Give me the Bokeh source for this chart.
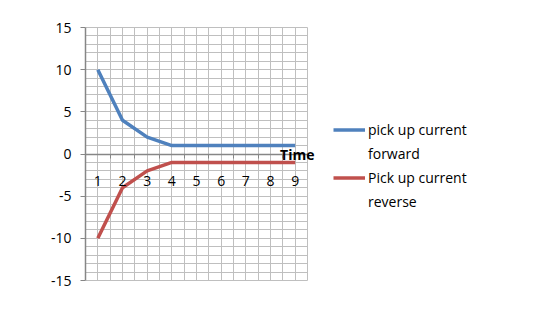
import numpy as np
from bokeh.plotting import figure
from bokeh.models import (Range1d, FixedTicker, LinearAxis, Legend, LegendItem, Label)
from bokeh.embed import file_html
from bokeh.resources import INLINE

# ---- data ----
time = [1, 2, 3, 4, 5, 6, 7, 8, 9]
forward = [10, 4, 2, 1, 1, 1, 1, 1, 1]
reverse = [-10, -4, -2, -1, -1, -1, -1, -1, -1]
series_lines = [["pick up current", "forward"], ["Pick up current", "reverse"]]
y_ticks = [-15, -10, -5, 0, 5, 10, 15]
x_title = "Time"

FONT = "Open Sans"
BLUE = "#4F81BD"
RED = "#C0504D"
GRID = "#BFBFBF"
AXIS = "#868686"

ux = 222 / 9          # px per category
uy = 253 / 30         # px per y unit
fw, fh = 232, 273
x0, x1 = 0.5, 0.5 + fw / ux
yh = fh / uy / 2

p = figure(frame_width=fw, frame_height=fh, output_backend="svg",
           toolbar_location=None, x_range=Range1d(x0, x1),
           y_range=Range1d(-yh, yh), min_border_left=85, min_border_right=224,
           min_border_top=17, min_border_bottom=4, outline_line_color=None,
           background_fill_color=None)

# grids
p.xgrid.ticker = FixedTicker(ticks=list(np.arange(0.5, 9.51, 0.5)))
p.ygrid.ticker = FixedTicker(ticks=list(range(-15, 16)))
p.xgrid.cross_bounds = (-15, 15)
p.ygrid.cross_bounds = (0.5, 9.5)
for g in (p.xgrid, p.ygrid):
    g.grid_line_color = GRID
    g.grid_line_width = 1

# y axis
ya = p.yaxis[0]
ya.bounds = (-15, 15)
ya.ticker = FixedTicker(ticks=y_ticks)
ya.major_label_overrides = {t: str(t) for t in y_ticks}
ya.axis_line_color = AXIS
ya.axis_line_width = 1.5
ya.major_tick_line_color = AXIS
ya.major_tick_out = 5
ya.major_tick_in = 0
ya.minor_tick_out = 0
ya.minor_tick_in = 0
ya.major_label_standoff = 9
ya.major_label_text_font = FONT
ya.major_label_text_font_size = "14px"
ya.major_label_text_color = "#000000"

# zero line axis with boundary ticks
bounds = [b + 0.5 for b in [0] + time]
za = p.xaxis[0]
za.ticker = FixedTicker(ticks=bounds)
za.bounds = (0.5, 9.5)
za.fixed_location = 0
za.major_label_overrides = {b: "" for b in bounds}
za.axis_line_color = AXIS
za.axis_line_width = 1.5
za.major_tick_line_color = AXIS
za.major_tick_out = 4
za.major_tick_in = 0
za.minor_tick_out = 0
za.minor_tick_in = 0
za.major_label_standoff = 0
za.major_label_text_font_size = "1px"

# category numbers, placed below the zero line (axis drawn from the top panel)
xa = LinearAxis(ticker=FixedTicker(ticks=time), fixed_location=-3.8)
xa.axis_line_color = None
xa.major_tick_line_color = None
xa.minor_tick_line_color = None
xa.major_tick_out = 0
xa.major_tick_in = 0
xa.major_label_standoff = 0
xa.major_label_text_font = FONT
xa.major_label_text_font_size = "14px"
xa.major_label_text_color = "#000000"
p.add_layout(xa, "above")

r1 = p.line(time, forward, line_color=BLUE, line_width=3.5)
r2 = p.line(time, reverse, line_color=RED, line_width=3.5)

p.add_layout(Label(x=9.5, y=0, x_offset=7, text=x_title, text_align="right",
                   text_baseline="middle", text_font=FONT, text_font_size="14px",
                   text_font_style="bold", text_color="#000000"))

items = []
for lines, r in zip(series_lines, [r1, r2]):
    items.append(LegendItem(label=lines[0], renderers=[r]))
    items.append(LegendItem(label=lines[1], renderers=[]))

legend = Legend(items=items, location=(16, 78), padding=0, margin=0, spacing=3,
                glyph_width=32, glyph_height=21, label_height=21, label_standoff=3,
                border_line_color=None, background_fill_alpha=0,
                label_text_font=FONT, label_text_font_size="14px",
                label_text_line_height=1.5, label_text_color="#000000")
p.add_layout(legend, "right")

open("out.html", "w").write(file_html(p, INLINE))
